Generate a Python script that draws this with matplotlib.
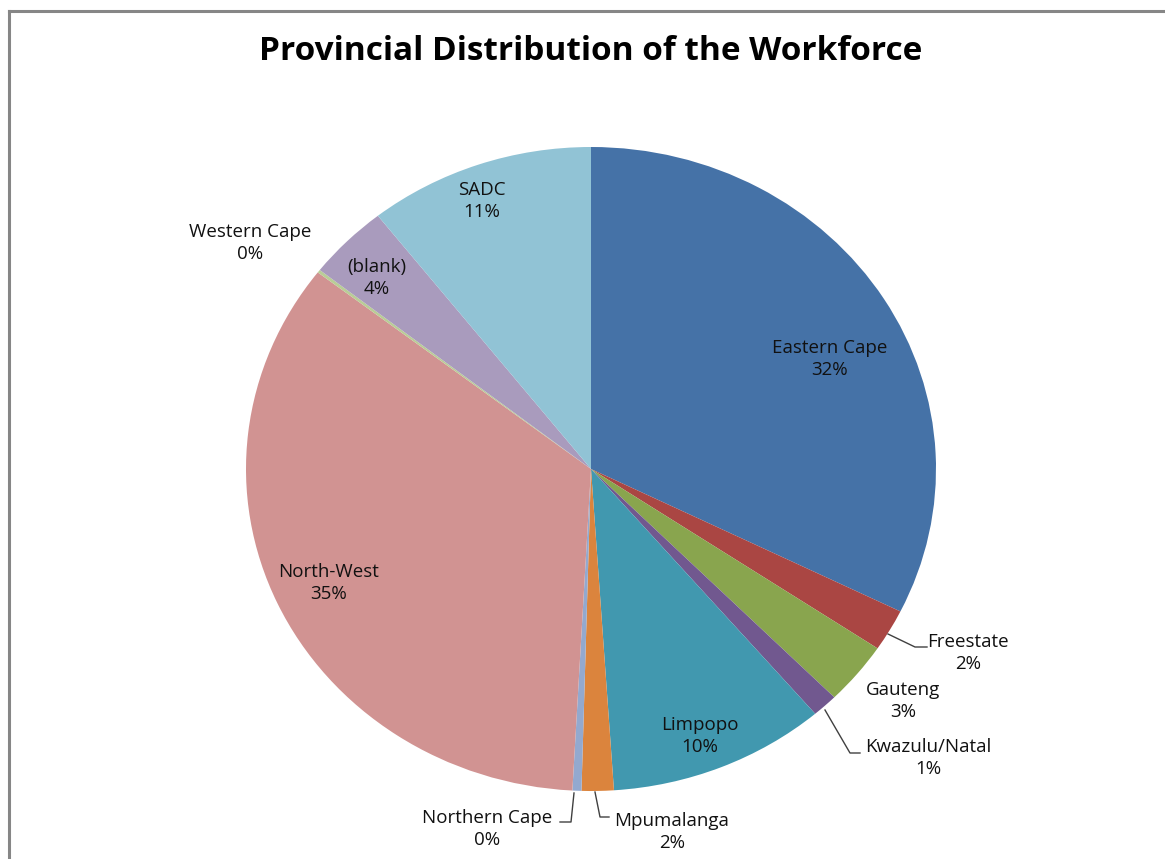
import matplotlib.pyplot as plt
from matplotlib.lines import Line2D

provinces = ['Eastern Cape', 'Freestate', 'Gauteng', 'Kwazulu/Natal', 'Limpopo',
             'Mpumalanga', 'Northern Cape', 'North-West', 'Western Cape', '(blank)', 'SADC']
shares = [32.3, 2.11, 3.14, 1.2, 10.2, 1.5, 0.42, 34.6, 0.15, 3.8, 10.6]
colors = ['#4572A7', '#AA4643', '#89A54E', '#71588F', '#4198AF', '#DB843D',
          '#93A9CF', '#D19392', '#B9CD96', '#A99BBD', '#91C3D5']

W, H = 1165, 859
fig = plt.figure(figsize=(W / 100, H / 100), dpi=100)

# chart frame (cropped on right / bottom)
fig.add_artist(Line2D([9 / W, 9 / W], [0, 1 - 11 / H], color='#868686', lw=2.2))
fig.add_artist(Line2D([9 / W, 1], [1 - 11 / H, 1 - 11 / H], color='#868686', lw=2.2))

fig.text(591 / W, 1 - 51 / H, 'Provincial Distribution of the Workforce',
         ha='center', va='center', fontsize=24, fontweight='bold', family='Open Sans')

# pie is a bit wider than tall in the original
cx, cy, rx, ry = 591, 469, 345, 322
ax = fig.add_axes([(cx - rx) / W, 1 - (cy + ry) / H, 2 * rx / W, 2 * ry / H])
ax.pie(shares, colors=colors, startangle=90, counterclock=False, radius=1,
       wedgeprops=dict(linewidth=0))
ax.set_aspect('auto')
ax.set_xlim(-1, 1)
ax.set_ylim(-1, 1)
ax.axis('off')

def px(x, y):
    return ((x - cx) / rx, (cy - y) / ry)

# label positions in pixels
label_pos = {
    'Eastern Cape': (830, 359), 'Freestate': (968, 653), 'Gauteng': (903, 701),
    'Kwazulu/Natal': (928, 758), 'Limpopo': (700, 736), 'Mpumalanga': (672, 832),
    'Northern Cape': (487, 829), 'North-West': (329, 583), 'Western Cape': (250, 243),
    '(blank)': (377, 278), 'SADC': (482, 201),
}
for name, v in zip(provinces, shares):
    x, y = px(*label_pos[name])
    ax.text(x, y, f'{name}\n{int(v + 0.5)}%', ha='center', va='center',
            fontsize=13.5, family='Open Sans', linespacing=1.3, color='#111111')

leaders = [
    [(888, 634), (915, 647), (927, 647)],
    [(825, 710), (850, 753), (860, 753)],
    [(595, 792), (600, 817), (609, 817)],
    [(574, 793), (571, 822), (560, 822)],
]
for pts in leaders:
    xs, ys = zip(*[px(*p) for p in pts])
    ax.plot(xs, ys, color='#404040', lw=1, clip_on=False)

fig.savefig('out.png', dpi=100)
